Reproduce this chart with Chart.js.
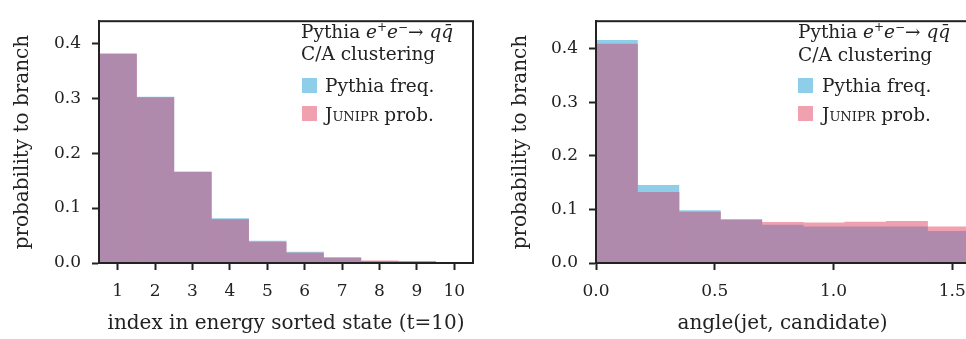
<!DOCTYPE html>
<html>
<head>
<meta charset="utf-8">
<script src="https://cdn.jsdelivr.net/npm/chart.js@4.4.0/dist/chart.umd.min.js"></script>
<style>
  html, body { margin:0; padding:0; background:#fff; }
  body { width:966px; height:339px; overflow:hidden; position:relative; font-family:"DejaVu Serif", serif; color:#222; }
  .box { position:absolute; top:0; height:339px; }
  .leg { position:absolute; font-size:18.5px; line-height:22px; white-space:nowrap; color:#222; }
  .sw { position:absolute; width:15px; height:15px; }
  sup { font-size:12px; line-height:0; vertical-align:7px; }
  .sc { font-variant:small-caps; }
</style>
</head>
<body>
<div class="box" style="left:0;width:480px"><canvas id="left"></canvas></div>
<div class="box" style="left:480px;width:500px"><canvas id="right"></canvas></div>

<div class="leg" style="left:301px;top:21px">Pythia <i>e</i><sup>+</sup><i>e</i><sup>−</sup>→ <i>q</i><i>q̄</i></div>
<div class="leg" style="left:301px;top:43px">C/A clustering</div>
<div class="sw" style="left:302px;top:78px;background:#8fcee8"></div>
<div class="leg" style="left:325px;top:75px">Pythia freq.</div>
<div class="sw" style="left:302px;top:106px;background:#f0a0af"></div>
<div class="leg" style="left:325px;top:104px"><span class="sc">Junipr</span> prob.</div>

<div class="leg" style="left:798px;top:21px">Pythia <i>e</i><sup>+</sup><i>e</i><sup>−</sup>→ <i>q</i><i>q̄</i></div>
<div class="leg" style="left:798px;top:44px">C/A clustering</div>
<div class="sw" style="left:798px;top:78px;background:#8fcee8"></div>
<div class="leg" style="left:822px;top:75px">Pythia freq.</div>
<div class="sw" style="left:798px;top:106px;background:#f0a0af"></div>
<div class="leg" style="left:822px;top:104px"><span class="sc">Junipr</span> prob.</div>

<script>
// left panel: index in energy sorted state
const indexBins = [1, 2, 3, 4, 5, 6, 7, 8, 9, 10];
const indexPythia = [0.380, 0.302, 0.166, 0.081, 0.040, 0.020, 0.010, 0.003, 0.002, 0.001];
const indexJunipr = [0.380, 0.301, 0.165, 0.079, 0.038, 0.018, 0.009, 0.004, 0.003, 0.001];
const indexOverlap = [0.380, 0.301, 0.165, 0.079, 0.038, 0.018, 0.009, 0.003, 0.002, 0.001];
const indexTicks = [1, 2, 3, 4, 5, 6, 7, 8, 9, 10];

// right panel: angle(jet, candidate), bin centres
const angleBins = [0.0873, 0.2618, 0.4363, 0.6109, 0.7854, 0.9599, 1.1345, 1.3090, 1.4835];
const anglePythia = [0.416, 0.145, 0.098, 0.080, 0.071, 0.0675, 0.0675, 0.0675, 0.059];
const angleJunipr = [0.409, 0.132, 0.095, 0.081, 0.076, 0.075, 0.0765, 0.078, 0.0675];
const angleOverlap = [0.409, 0.132, 0.095, 0.080, 0.071, 0.0675, 0.0675, 0.0675, 0.059];
const angleTicks = [0.0, 0.5, 1.0, 1.5];

const yTicks = [0.0, 0.1, 0.2, 0.3, 0.4];

const BLUE = '#8fcee8', PINK = '#f0a0af', PURPLE = '#b08aac', INK = '#222';

const frame = {
    id: 'frame',
    afterDraw(chart){
        const a = chart.chartArea, ctx = chart.ctx;
        ctx.save();
        ctx.strokeStyle = INK;
        ctx.lineWidth = 2;
        ctx.strokeRect(a.left, a.top, a.right - a.left, a.bottom - a.top);
        ctx.restore();
    }
};

function pts(xs, ys){ return xs.map((x, i) => ({x: x, y: ys[i]})); }

function makeChart(id, xs, pyth, jun, over, cfg){
    const ds = (label, data, color, order) => ({
        label, data: pts(xs, data), backgroundColor: color, borderWidth: 0,
        barPercentage: 1, categoryPercentage: 1, grouped: false, order
    });
    return new Chart(document.getElementById(id), {
        type: 'bar',
        data: { datasets: [
            ds('Pythia freq.', pyth, BLUE, 2),
            ds('Junipr prob.', jun, PINK, 1),
            ds('overlap', over, PURPLE, 0)
        ]},
        options: {
            responsive: false, animation: false,
            layout: { padding: { top: 10, right: cfg.padRight, left: 0, bottom: 0 } },
            plugins: { legend: { display: false }, tooltip: { enabled: false } },
            scales: {
                x: {
                    type: 'linear', min: cfg.xmin, max: cfg.xmax, offset: false,
                    afterFit(s){ s.height = 76; },
                    afterBuildTicks(s){ s.ticks = cfg.xticks.map(v => ({value: v})); },
                    grid: { offset: false, drawOnChartArea: false, tickLength: 7, tickWidth: 2, color: INK },
                    border: { color: INK, width: 2 },
                    ticks: { color: INK, padding: 11, maxRotation: 0, autoSkip: false,
                             font: { family: 'DejaVu Serif', size: 17 },
                             callback: cfg.xfmt },
                    title: { display: true, text: cfg.xtitle, color: INK,
                             font: { family: 'DejaVu Serif', size: 20 }, padding: { bottom: 3, top: 0 } }
                },
                y: {
                    min: 0, max: cfg.ymax,
                    afterFit(s){ s.width = cfg.yWidth; },
                    afterBuildTicks(s){ s.ticks = yTicks.map(v => ({value: v})); },
                    grid: { drawOnChartArea: false, tickLength: 7, tickWidth: 2, color: INK },
                    border: { color: INK, width: 2 },
                    ticks: { color: INK, padding: 11, font: { family: 'DejaVu Serif', size: 17 },
                             callback: v => v.toFixed(1) },
                    title: { display: true, text: 'probability to branch', color: INK,
                             font: { family: 'DejaVu Serif', size: 20 }, padding: { top: cfg.yTitlePad, bottom: 0 } }
                }
            }
        },
        plugins: [frame]
    });
}

const leftCanvas = document.getElementById('left');
leftCanvas.width = 480; leftCanvas.height = 339;
makeChart('left', indexBins, indexPythia, indexJunipr, indexOverlap, {
    xmin: 0.5, xmax: 10.5, ymax: 0.44, padRight: 7, yWidth: 99, yTitlePad: 11,
    xticks: indexTicks, xfmt: v => String(v), xtitle: 'index in energy sorted state (t=10)'
});

const rightCanvas = document.getElementById('right');
rightCanvas.width = 500; rightCanvas.height = 339;
makeChart('right', angleBins, anglePythia, angleJunipr, angleOverlap, {
    xmin: 0, xmax: 1.5708, ymax: 0.4516, padRight: 11, yWidth: 116, yTitlePad: 29,
    xticks: angleTicks, xfmt: v => v.toFixed(1), xtitle: 'angle(jet, candidate)'
});
</script>
</body>
</html>
